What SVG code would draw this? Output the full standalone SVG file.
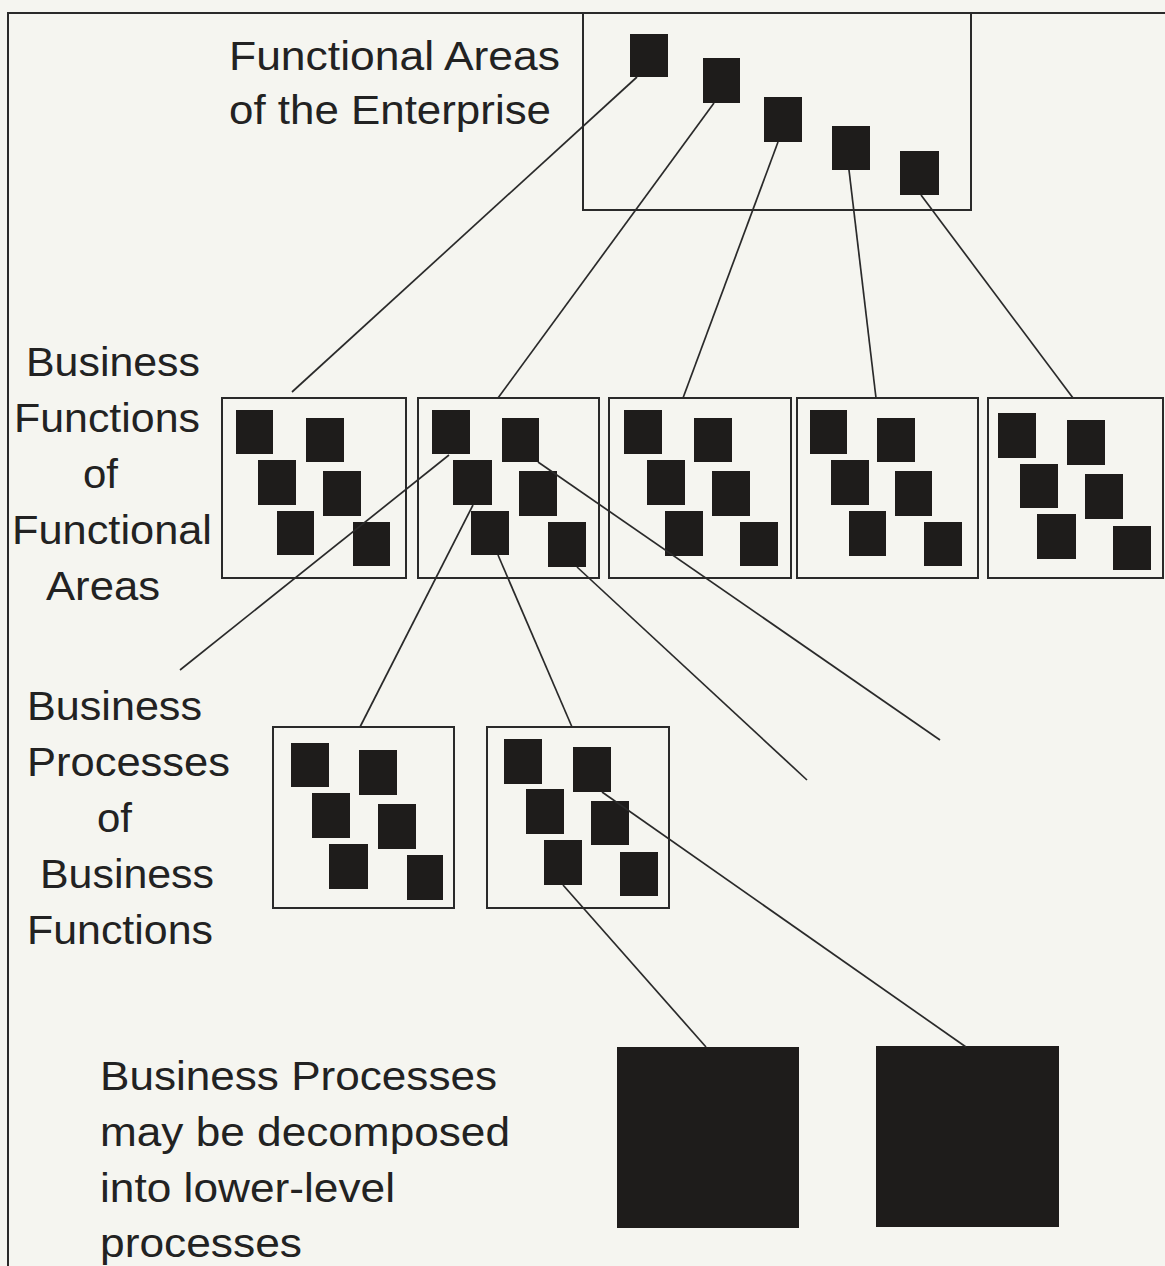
<svg xmlns="http://www.w3.org/2000/svg" width="1165" height="1266" viewBox="0 0 1165 1266">
  <style>
    .lbl { font-family: "Liberation Sans", Arial, Helvetica, sans-serif; font-size: 41px; fill: #222; }
    .box { fill: none; stroke: #2a2a2a; stroke-width: 2; }
    .sq { fill: #1e1c1b; }
    .con line { stroke: #2a2a2a; stroke-width: 1.7; }
    .frame { fill: none; stroke: #2a2a2a; stroke-width: 2; }
  </style>
  <rect width="1165" height="1266" fill="#f5f5f0"/>
  <!-- outer frame: top and left edges -->
  <path class="frame" d="M8,1266 V13 H1165"/>

  <!-- level 1: functional areas -->
  <g id="enterprise">
    <rect class="box" x="583" y="13" width="388" height="197"/>
    <rect class="sq" x="630" y="34" width="38" height="43"/>
    <rect class="sq" x="703" y="58" width="37" height="45"/>
    <rect class="sq" x="764" y="97" width="38" height="45"/>
    <rect class="sq" x="832" y="126" width="38" height="44"/>
    <rect class="sq" x="900" y="151" width="39" height="44"/>
  </g>
  <g id="label-enterprise">
    <text class="lbl" x="229" y="70" textLength="331" lengthAdjust="spacingAndGlyphs">Functional Areas</text>
    <text class="lbl" x="229" y="124" textLength="322" lengthAdjust="spacingAndGlyphs">of the Enterprise</text>
  </g>

  <!-- level 2: business functions -->
  <g id="bf1">
    <rect class="box" x="222" y="398" width="184" height="180"/>
    <rect class="sq" x="236" y="410" width="37" height="44"/>
    <rect class="sq" x="306" y="418" width="38" height="44"/>
    <rect class="sq" x="258" y="460" width="38" height="45"/>
    <rect class="sq" x="323" y="471" width="38" height="45"/>
    <rect class="sq" x="277" y="511" width="37" height="44"/>
    <rect class="sq" x="353" y="522" width="37" height="44"/>
  </g>
  <g id="bf2">
    <rect class="box" x="418" y="398" width="181" height="180"/>
    <rect class="sq" x="432" y="410" width="38" height="44"/>
    <rect class="sq" x="502" y="418" width="37" height="44"/>
    <rect class="sq" x="453" y="460" width="39" height="45"/>
    <rect class="sq" x="519" y="471" width="38" height="45"/>
    <rect class="sq" x="471" y="511" width="38" height="44"/>
    <rect class="sq" x="548" y="522" width="38" height="45"/>
  </g>
  <g id="bf3">
    <rect class="box" x="609" y="398" width="182" height="180"/>
    <rect class="sq" x="624" y="410" width="38" height="44"/>
    <rect class="sq" x="694" y="418" width="38" height="44"/>
    <rect class="sq" x="647" y="460" width="38" height="45"/>
    <rect class="sq" x="712" y="471" width="38" height="45"/>
    <rect class="sq" x="665" y="511" width="38" height="45"/>
    <rect class="sq" x="740" y="522" width="38" height="44"/>
  </g>
  <g id="bf4">
    <rect class="box" x="797" y="398" width="181" height="180"/>
    <rect class="sq" x="810" y="410" width="37" height="44"/>
    <rect class="sq" x="877" y="418" width="38" height="44"/>
    <rect class="sq" x="831" y="460" width="38" height="45"/>
    <rect class="sq" x="895" y="471" width="37" height="45"/>
    <rect class="sq" x="849" y="511" width="37" height="45"/>
    <rect class="sq" x="924" y="522" width="38" height="44"/>
  </g>
  <g id="bf5">
    <rect class="box" x="988" y="398" width="175" height="180"/>
    <rect class="sq" x="998" y="413" width="38" height="45"/>
    <rect class="sq" x="1067" y="420" width="38" height="45"/>
    <rect class="sq" x="1020" y="464" width="38" height="44"/>
    <rect class="sq" x="1085" y="474" width="38" height="45"/>
    <rect class="sq" x="1037" y="514" width="39" height="45"/>
    <rect class="sq" x="1113" y="526" width="38" height="44"/>
  </g>
  <g id="label-functions">
    <text class="lbl" x="26" y="376" textLength="174" lengthAdjust="spacingAndGlyphs">Business</text>
    <text class="lbl" x="14" y="432" textLength="186" lengthAdjust="spacingAndGlyphs">Functions</text>
    <text class="lbl" x="83" y="488" textLength="35" lengthAdjust="spacingAndGlyphs">of</text>
    <text class="lbl" x="12" y="544" textLength="200" lengthAdjust="spacingAndGlyphs">Functional</text>
    <text class="lbl" x="46" y="600" textLength="114" lengthAdjust="spacingAndGlyphs">Areas</text>
  </g>

  <!-- level 3: business processes -->
  <g id="bp1">
    <rect class="box" x="273" y="727" width="181" height="181"/>
    <rect class="sq" x="291" y="743" width="38" height="44"/>
    <rect class="sq" x="359" y="750" width="38" height="45"/>
    <rect class="sq" x="312" y="793" width="38" height="45"/>
    <rect class="sq" x="378" y="804" width="38" height="45"/>
    <rect class="sq" x="329" y="844" width="39" height="45"/>
    <rect class="sq" x="407" y="855" width="36" height="45"/>
  </g>
  <g id="bp2">
    <rect class="box" x="487" y="727" width="182" height="181"/>
    <rect class="sq" x="504" y="739" width="38" height="45"/>
    <rect class="sq" x="573" y="747" width="38" height="45"/>
    <rect class="sq" x="526" y="789" width="38" height="45"/>
    <rect class="sq" x="591" y="801" width="38" height="44"/>
    <rect class="sq" x="544" y="840" width="38" height="45"/>
    <rect class="sq" x="620" y="852" width="38" height="44"/>
  </g>
  <g id="label-processes">
    <text class="lbl" x="27" y="720" textLength="175" lengthAdjust="spacingAndGlyphs">Business</text>
    <text class="lbl" x="27" y="776" textLength="203" lengthAdjust="spacingAndGlyphs">Processes</text>
    <text class="lbl" x="97" y="832" textLength="35" lengthAdjust="spacingAndGlyphs">of</text>
    <text class="lbl" x="40" y="888" textLength="174" lengthAdjust="spacingAndGlyphs">Business</text>
    <text class="lbl" x="27" y="944" textLength="186" lengthAdjust="spacingAndGlyphs">Functions</text>
  </g>

  <!-- level 4: lower-level processes -->
  <g id="sub1">
    <rect class="sq" x="617" y="1047" width="182" height="181"/>
  </g>
  <g id="sub2">
    <rect class="sq" x="876" y="1046" width="183" height="181"/>
  </g>
  <g id="label-decomposed">
    <text class="lbl" x="100" y="1090" textLength="397" lengthAdjust="spacingAndGlyphs">Business Processes</text>
    <text class="lbl" x="100" y="1146" textLength="410" lengthAdjust="spacingAndGlyphs">may be decomposed</text>
    <text class="lbl" x="100" y="1202" textLength="295" lengthAdjust="spacingAndGlyphs">into lower-level</text>
    <text class="lbl" x="100" y="1257" textLength="202" lengthAdjust="spacingAndGlyphs">processes</text>
  </g>

  <!-- connectors -->
  <g id="connectors" class="con">
    <line x1="637" y1="77" x2="292" y2="392"/>
    <line x1="714" y1="103" x2="498" y2="398"/>
    <line x1="778" y1="142" x2="683" y2="398"/>
    <line x1="849" y1="170" x2="876" y2="398"/>
    <line x1="921" y1="195" x2="1073" y2="398"/>
    <line x1="449" y1="455" x2="180" y2="670"/>
    <line x1="473" y1="505" x2="360" y2="727"/>
    <line x1="498" y1="555" x2="572" y2="727"/>
    <line x1="577" y1="567" x2="807" y2="780"/>
    <line x1="538" y1="462" x2="940" y2="740"/>
    <line x1="602" y1="792" x2="966" y2="1047"/>
    <line x1="563" y1="885" x2="706" y2="1047"/>
  </g>
</svg>
